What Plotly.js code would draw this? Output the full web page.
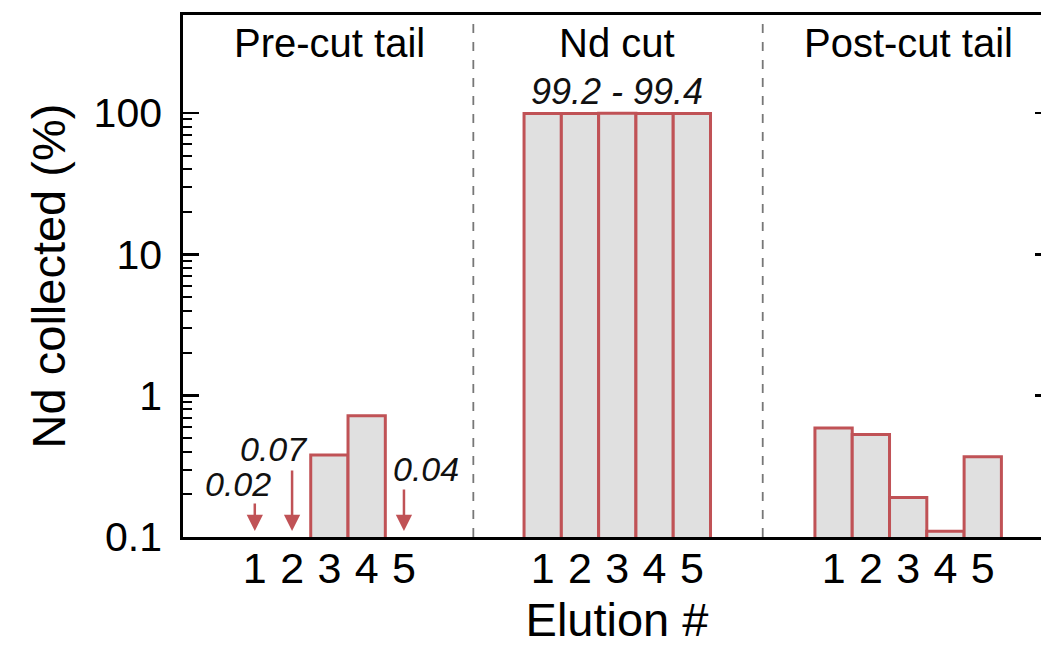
<!DOCTYPE html>
<html>
<head>
<meta charset="utf-8">
<script src="https://cdn.plot.ly/plotly-3.0.1.min.js"></script>
<style>
html,body{margin:0;padding:0;overflow:hidden;background:#fff;}
#chart{width:1052px;height:646px;}
</style>
</head>
<body>
<div id="chart"></div>
<script>
// ---- data ----
const groupNames = ['Pre-cut tail', 'Nd cut', 'Post-cut tail'];
const elutions = [1, 2, 3, 4, 5];
const preCut = [0.02, 0.07, 0.38, 0.72, 0.04];
const ndCut = [99.3, 99.2, 99.4, 99.3, 99.3];
const postCut = [0.59, 0.53, 0.19, 0.11, 0.37];
const ndCutRange = '99.2 - 99.4';
const yTickVals = [0.1, 1, 10, 100];
const yTickText = ['0.1', '1', '10', '100'];

// ---- layout config ----
const groupOffsets = [0, 7.72, 15.52];
const seriesList = [preCut, ndCut, postCut];
const yMin = 0.1;
const FONT = 'Liberation Sans, Arial, Helvetica, sans-serif';
const RED = 'rgb(192,82,86)';
// arrow tail length (px) and label shift for values below axis minimum
const arrowStyle = {
  '0-0': {len: 29, dx: -17, labelY: 484},
  '0-1': {len: 62, dx: -19, labelY: 449},
  '0-4': {len: 43, dx: 22, labelY: 469}
};
const plotTop = 15, plotBottom = 537, plotH = plotBottom - plotTop;
const pxToPaper = p => (plotBottom - p) / plotH;

const barX = [], barY = [], tickVals = [], tickText = [];
const annotations = [];
seriesList.forEach((vals, g) => {
  vals.forEach((v, i) => {
    const x = groupOffsets[g] + elutions[i];
    tickVals.push(x); tickText.push(String(elutions[i]));
    if (v >= yMin) { barX.push(x); barY.push(v); }
    else {
      const st = arrowStyle[g + '-' + i];
      annotations.push({x: x, xref: 'x', y: pxToPaper(531), yref: 'paper',
        ax: 0, ay: -st.len, axref: 'pixel', ayref: 'pixel', text: '',
        showarrow: true, arrowhead: 2, arrowsize: 1.3, arrowwidth: 2.5, arrowcolor: RED});
      annotations.push({x: x, xref: 'x', xshift: st.dx, y: pxToPaper(st.labelY), yref: 'paper',
        yanchor: 'middle', showarrow: false, text: '<i>' + v.toFixed(2) + '</i>',
        font: {family: FONT, size: 34, color: '#111'}});
    }
  });
  const center = groupOffsets[g] + (elutions[0] + elutions[elutions.length - 1]) / 2;
  annotations.push({x: center, xref: 'x', y: pxToPaper(43), yref: 'paper', yanchor: 'middle',
    showarrow: false, text: groupNames[g], font: {family: FONT, size: 40, color: '#000'}});
});
annotations.push({x: groupOffsets[1] + 3, xref: 'x', y: pxToPaper(91), yref: 'paper', yanchor: 'middle',
  showarrow: false, text: '<i>' + ndCutRange + '</i>', font: {family: FONT, size: 36, color: '#111'}});

const shapes = [];
for (let g = 0; g < groupOffsets.length - 1; g++) {
  const xs = (groupOffsets[g] + elutions[elutions.length - 1] + groupOffsets[g + 1] + elutions[0]) / 2;
  shapes.push({type: 'line', xref: 'x', yref: 'paper', x0: xs, x1: xs, y0: 0, y1: 1,
    line: {color: '#777', width: 1.8, dash: 'dash'}, layer: 'below'});
}

const minorVals = [];
for (let e = -1; e <= 1; e++) for (let d = 2; d <= 9; d++) minorVals.push(d * Math.pow(10, e));

const trace = {
  type: 'bar', x: barX, y: barY, width: 1,
  marker: {color: '#e0e0e0', line: {color: RED, width: 3}},
  hoverinfo: 'x+y'
};

const layout = {
  width: 1052, height: 646,
  margin: {l: 183, r: 1, t: plotTop, b: 646 - plotBottom},
  paper_bgcolor: '#fff', plot_bgcolor: '#fff',
  showlegend: false,
  font: {family: FONT, color: '#000'},
  xaxis: {
    range: [-0.925, 22.35], tickmode: 'array', tickvals: tickVals, ticktext: tickText,
    ticks: '', showline: true, linecolor: '#000', linewidth: 2.8, mirror: true,
    showgrid: false, zeroline: false, ticklabelstandoff: -8,
    tickfont: {family: FONT, size: 43, color: '#000'},
    title: {text: 'Elution #', font: {family: FONT, size: 47, color: '#000'}, standoff: 19}
  },
  yaxis: {
    type: 'log', range: [-1, 2.693], tickmode: 'array', tickvals: yTickVals, ticktext: yTickText,
    ticks: 'inside', ticklen: 16, tickwidth: 2.5, tickcolor: '#000',
    minor: {tickmode: 'array', tickvals: minorVals, ticks: 'inside', ticklen: 9, tickwidth: 2, tickcolor: '#000'},
    showline: true, linecolor: '#000', linewidth: 2.8, mirror: 'ticks',
    showgrid: false, zeroline: false, ticklabelstandoff: 10,
    tickfont: {family: FONT, size: 41, color: '#000'},
    title: {text: 'Nd collected (%)', font: {family: FONT, size: 47, color: '#000'}, standoff: 14}
  },
  annotations: annotations,
  shapes: shapes
};

Plotly.newPlot('chart', [trace], layout, {displayModeBar: false, staticPlot: true});
</script>
</body>
</html>
